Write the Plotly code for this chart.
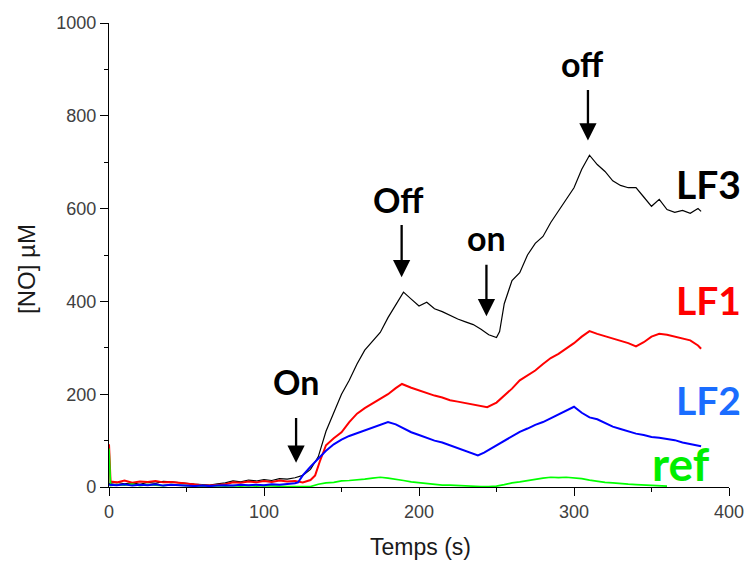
import plotly.graph_objects as go

# ---- data ----
t_lf3 = [0, 5, 10, 15, 20, 25, 30, 35, 40, 45, 50, 55, 60, 65, 70, 75, 80, 85, 90, 95,
         100, 105, 110, 115, 120, 125, 130, 135, 140, 145, 150, 155, 160, 165, 170, 175,
         180, 185, 190, 195, 200, 205, 210, 215, 220, 225, 230, 235, 240, 245, 250, 252,
         255, 260, 265, 270, 275, 280, 285, 290, 295, 300, 305, 310, 315, 320, 325, 330,
         335, 340, 345, 350, 355, 360, 365, 370, 375, 380, 382]
v_lf3 = [8, 10, 7, 9, 6, 10, 8, 12, 11, 9, 8, 6, 5, 4, 7, 9, 13, 11, 15, 13,
         16, 14, 18, 17, 20, 25, 38, 65, 120, 160, 200, 230, 265, 295, 315, 333,
         365, 393, 420, 405, 390, 398, 384, 378, 370, 362, 356, 350, 340, 328, 322, 335,
         395, 445, 462, 500, 525, 540, 570, 595, 618, 645, 685, 715, 695, 680, 660, 650,
         645, 645, 625, 605, 620, 598, 592, 596, 590, 600, 594]

t_lf1 = [0, 1, 5, 10, 15, 20, 25, 30, 35, 40, 45, 50, 55, 60, 65, 70, 75, 80, 85, 90,
         95, 100, 105, 110, 115, 120, 125, 130, 133, 136, 140, 145, 150, 155, 160, 165,
         170, 175, 180, 185, 189, 195, 200, 205, 210, 215, 220, 225, 230, 235, 240, 244,
         250, 255, 260, 265, 270, 275, 280, 285, 290, 295, 300, 305, 310, 315, 320, 325,
         330, 335, 340, 345, 350, 355, 360, 365, 370, 375, 380, 382]
v_lf1 = [92, 12, 10, 14, 9, 12, 11, 13, 10, 11, 9, 7, 6, 4, 3, 4, 6, 10, 9, 12,
         10, 13, 11, 14, 12, 13, 10, 15, 25, 55, 90, 105, 118, 140, 158, 170,
         180, 190, 200, 213, 222, 214, 208, 203, 197, 193, 187, 184, 181, 178, 176, 172,
         182, 196, 212, 230, 240, 251, 265, 278, 287, 298, 310, 324, 336, 330, 325, 320,
         314, 310, 303, 312, 324, 330, 328, 324, 320, 316, 305, 298]

t_lf2 = [0, 5, 10, 15, 20, 25, 30, 35, 40, 45, 50, 55, 60, 65, 70, 75, 80, 85, 90, 95,
         100, 105, 110, 115, 120, 122, 125, 130, 135, 140, 145, 150, 155, 160, 165, 170,
         175, 180, 185, 190, 195, 200, 205, 210, 215, 220, 225, 230, 235, 238, 242, 245,
         250, 255, 260, 265, 270, 275, 280, 285, 290, 295, 300, 305, 310, 315, 320, 325,
         330, 335, 340, 345, 350, 355, 360, 365, 370, 375, 380, 382]
v_lf2 = [5, 4, 6, 3, 5, 4, 6, 3, 5, 4, 3, 2, 3, 2, 3, 4, 3, 5, 4, 5,
         4, 6, 5, 6, 8, 10, 25, 44, 62, 78, 92, 102, 110, 116, 121, 128,
         133, 140, 135, 126, 118, 112, 106, 100, 96, 90, 84, 78, 72, 68, 74, 80,
         90, 100, 110, 119, 126, 134, 140, 148, 157, 164, 173, 160, 150, 146, 138, 130,
         125, 120, 115, 112, 108, 106, 104, 101, 96, 93, 90, 88]

t_ref = [0, 1, 5, 10, 15, 20, 25, 30, 35, 40, 45, 50, 55, 60, 65, 70, 75, 80, 85, 90,
         95, 100, 105, 110, 115, 120, 125, 130, 135, 140, 145, 150, 155, 160, 165, 170,
         175, 180, 185, 190, 195, 200, 205, 210, 215, 220, 225, 230, 235, 240, 245, 250,
         255, 260, 265, 270, 275, 280, 285, 290, 295, 300, 305, 310, 315, 320, 325, 330,
         335, 340, 345, 350, 355, 360]
v_ref = [83, 3, 5, 4, 6, 3, 5, 4, 3, 5, 4, 3, 2, 3, 2, 3, 2, 3, 2, 3,
         2, 3, 2, 2, 1, 1, 1, 1, 6, 9, 10, 13, 14, 15, 17, 19,
         21, 19, 17, 14, 11, 9, 7, 6, 4, 4, 3, 2, 2, 1, 1, 2,
         5, 9, 11, 14, 17, 19, 21, 20, 21, 20, 18, 15, 12, 10, 9, 7,
         6, 5, 4, 3, 3, 2]

x_ticks = [0, 100, 200, 300, 400]
y_ticks = [0, 200, 400, 600, 800, 1000]

# (label, text x, text y, arrow tail x, tail y, tip x, tip y)
events = [
    ("On", 120.7, 228, 120.7, 152, 120.7, 52),
    ("Off", 186.5, 620, 188.8, 568, 188.8, 452),
    ("on", 243.5, 538, 243.5, 482, 243.5, 368),
    ("off", 305.8, 912, 309.0, 859, 309.0, 747),
]

# (label, x, y, colour, size)
series_labels = [
    ("LF3", 386.5, 654, "#000000", 39),
    ("LF1", 386.5, 402, "#ff0000", 39),
    ("LF2", 387.0, 188, "#1a6dff", 39),
    ("ref", 369.0, 50, "#00ee00", 46),
]

fig = go.Figure()
fig.add_trace(go.Scatter(x=t_lf3, y=v_lf3, mode="lines", line=dict(color="#000000", width=1.2), name="LF3"))
fig.add_trace(go.Scatter(x=t_lf1, y=v_lf1, mode="lines", line=dict(color="#ff0000", width=2), name="LF1"))
fig.add_trace(go.Scatter(x=t_ref, y=v_ref, mode="lines", line=dict(color="#00ff00", width=1.7), name="ref"))
fig.add_trace(go.Scatter(x=t_lf2, y=v_lf2, mode="lines", line=dict(color="#0000ff", width=2), name="LF2"))

ann = []
for lab, tx, ty, ax, ay, x, y in events:
    ann.append(dict(x=tx, y=ty, xref="x", yref="y", text="<b>%s</b>" % lab, showarrow=False,
                    font=dict(family="Lato", size=34, color="#000000")))
    ann.append(dict(x=x, y=y, xref="x", yref="y", ax=ax, ay=ay, axref="x", ayref="y",
                    text="", showarrow=True, arrowhead=2, arrowsize=1.5, arrowwidth=2.3,
                    arrowcolor="#000000", standoff=0, startstandoff=0))
for lab, x, y, c, s in series_labels:
    ann.append(dict(x=x, y=y, xref="x", yref="y", text="<b>%s</b>" % lab, showarrow=False,
                    font=dict(family="Lato", size=s, color=c)))

# axis titles
ann.append(dict(x=0, y=0.469, xref="paper", yref="paper", xshift=-82.5, text="[NO] µM",
                textangle=-90, showarrow=False, xanchor="center", yanchor="middle",
                font=dict(family="Liberation Sans", size=24, color="#1a1a1a")))
ann.append(dict(x=0.502, y=0, xref="paper", yref="paper", yshift=-60, text="Temps (s)",
                showarrow=False, xanchor="center", yanchor="middle",
                font=dict(family="Liberation Sans", size=23, color="#1a1a1a")))

axis_common = dict(showgrid=False, zeroline=False, showline=True, linecolor="#000000", linewidth=1.3,
                   ticks="outside", ticklen=8, tickwidth=1.3, tickcolor="#000000", automargin=False,
                   tickfont=dict(family="Liberation Sans", size=18, color="#404040"))

# the page body has an 8px default margin, so the figure is shifted by 8px
fig.update_layout(
    width=746, height=555,
    margin=dict(l=100.5, r=25, t=14.7, b=76.3),
    paper_bgcolor="white", plot_bgcolor="white",
    showlegend=False,
    annotations=ann,
    xaxis=dict(range=[0, 400], tickvals=x_ticks, ticktext=[str(v) for v in x_ticks],
               minor=dict(tickvals=[50, 150, 250, 350], ticks="outside", ticklen=4, tickwidth=1.3, tickcolor="#000000"),
               **axis_common),
    yaxis=dict(range=[0, 1000], tickvals=y_ticks, ticktext=[str(v) for v in y_ticks],
               minor=dict(tickvals=[100, 300, 500, 700, 900], ticks="outside", ticklen=4, tickwidth=1.3, tickcolor="#000000"),
               **axis_common),
)
fig.write_html("out.html")
